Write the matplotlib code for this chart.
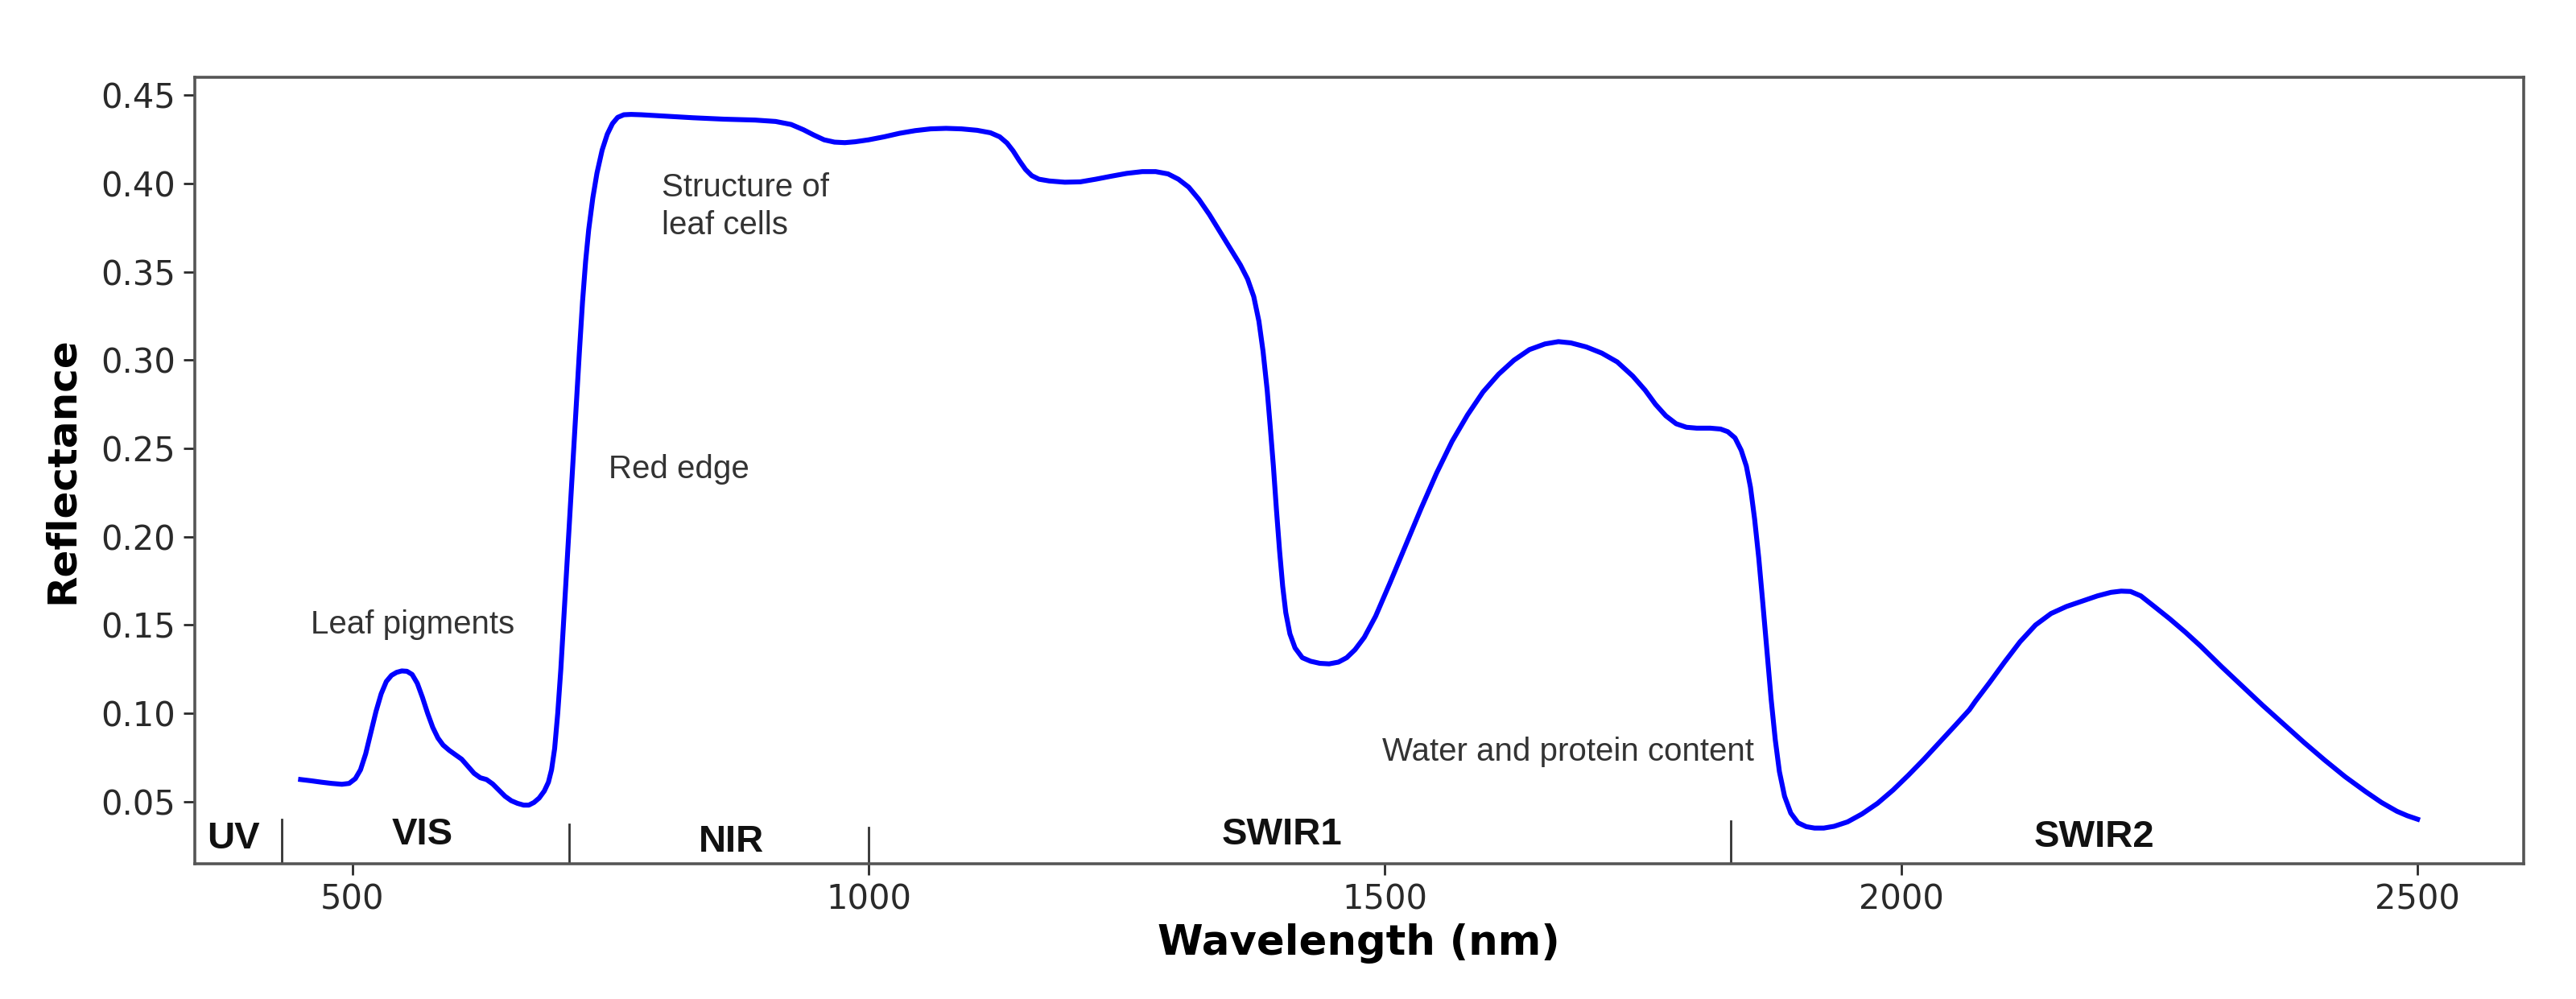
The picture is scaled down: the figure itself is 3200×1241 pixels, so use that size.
import matplotlib.pyplot as plt

# Reflectance curve (wavelength in nm)
wavelength = [450, 460, 470, 480, 490, 497, 503, 508, 513, 518, 523, 528, 533,
              538, 543, 548, 553, 558, 563, 568, 573, 578, 583, 588, 594, 600,
              606, 612, 618, 624, 630, 636, 642, 648, 654, 660, 666, 671, 676,
              681, 686, 690, 693, 696, 699, 702, 705, 708, 711, 714, 717, 720,
              723, 726, 729, 733, 737, 742, 747, 752, 757, 763, 770, 780,
              800, 830, 860, 890, 910, 925, 937, 947, 957, 967, 977, 987, 1000,
              1015, 1030, 1045, 1060, 1075, 1090, 1105, 1118, 1127, 1134, 1140,
              1146, 1152, 1158, 1165, 1175, 1190, 1205, 1220, 1235, 1250, 1265,
              1278, 1290, 1300, 1310, 1320, 1330, 1340, 1350, 1360, 1367, 1373,
              1378, 1382, 1386, 1389, 1392, 1395, 1398, 1401, 1404, 1408, 1413,
              1420, 1428, 1437, 1446, 1455, 1463, 1471, 1480, 1491, 1505, 1520,
              1535, 1550, 1565, 1580, 1595, 1610, 1625, 1640, 1655, 1668, 1680,
              1695, 1710, 1725, 1740, 1752, 1762, 1772, 1782, 1792, 1802, 1815,
              1825, 1832, 1839, 1845, 1850, 1854, 1858, 1862, 1866, 1870, 1874,
              1878, 1882, 1887, 1893, 1900, 1908, 1916, 1925, 1935, 1948, 1962,
              1977, 1992, 2007, 2022, 2037, 2052, 2066, 2072, 2085, 2100, 2115,
              2130, 2145, 2160, 2175, 2190, 2203, 2213, 2222, 2232, 2245, 2260,
              2275, 2290, 2310, 2330, 2350, 2370, 2390, 2410, 2430, 2450, 2465,
              2480, 2490, 2500]
reflectance = [0.0625, 0.0618, 0.061, 0.0603, 0.0598, 0.0603, 0.063, 0.068,
               0.077, 0.089, 0.101, 0.111, 0.118, 0.1215, 0.1232, 0.124, 0.1238,
               0.122, 0.117, 0.109, 0.100, 0.092, 0.086, 0.082, 0.079, 0.0765,
               0.074, 0.070, 0.066, 0.0635, 0.0625, 0.060, 0.0565, 0.053, 0.0505,
               0.049, 0.048, 0.048, 0.0495, 0.052, 0.056, 0.061, 0.068, 0.080,
               0.100, 0.125, 0.155, 0.185, 0.215, 0.245, 0.275, 0.305, 0.333,
               0.356, 0.374, 0.392, 0.406, 0.419, 0.428, 0.434, 0.4375, 0.439,
               0.4392, 0.439,
               0.4383, 0.4373, 0.4365, 0.436, 0.4352, 0.4335, 0.4305, 0.4275,
               0.4248, 0.4235, 0.4232, 0.4237, 0.4248, 0.4265, 0.4285, 0.430,
               0.431, 0.4313, 0.431, 0.4302, 0.4288, 0.4265, 0.423, 0.4185,
               0.413, 0.408, 0.4045, 0.4025, 0.4015, 0.4008, 0.401, 0.4025,
               0.4042, 0.4058, 0.4068, 0.4068, 0.4055, 0.4025, 0.398, 0.391,
               0.3825, 0.373, 0.3635, 0.354, 0.346, 0.336, 0.322, 0.305, 0.283,
               0.262, 0.240, 0.215, 0.192, 0.172, 0.157, 0.145, 0.137, 0.1315,
               0.1295, 0.1283, 0.128, 0.129, 0.1315, 0.136, 0.143, 0.155, 0.174,
               0.195, 0.216, 0.236, 0.254, 0.269, 0.282, 0.292, 0.300, 0.306,
               0.3092, 0.3105, 0.3098, 0.3075, 0.304, 0.299, 0.291, 0.283, 0.275,
               0.2685, 0.264, 0.262, 0.2615, 0.2615, 0.261, 0.2595, 0.256, 0.249,
               0.240, 0.228, 0.210, 0.188, 0.162, 0.135, 0.108, 0.085, 0.067,
               0.053, 0.0435, 0.038, 0.0358, 0.035, 0.035, 0.036, 0.0385, 0.043,
               0.049, 0.0565, 0.065, 0.074, 0.0835, 0.093, 0.102, 0.107, 0.117,
               0.129, 0.1405, 0.150, 0.1565, 0.1605, 0.1635, 0.1665, 0.1685,
               0.1692, 0.169, 0.1665, 0.1605, 0.1535, 0.146, 0.138, 0.1265,
               0.1155, 0.1045, 0.094, 0.0835, 0.0735, 0.064, 0.0555, 0.0495,
               0.0445, 0.042, 0.040]

# Spectral regions
region_names = ['UV', 'VIS', 'NIR', 'SWIR1', 'SWIR2']
region_label_x = [385, 568, 867, 1400, 2187]
region_label_y = [0.029, 0.031, 0.027, 0.031, 0.030]
region_bounds = [432, 710, 1000, 1835]
bound_heights = [0.056, 0.050, 0.046, 0.054]

# Annotations
notes = ['Leaf pigments', 'Red edge', 'Structure of\nleaf cells',
         'Water and protein content']
note_x = [460, 748, 800, 1497]
note_y = [0.150, 0.238, 0.387, 0.078]

fig = plt.figure(figsize=(16, 6.205), dpi=200)
ax = fig.add_axes([0.0756, 0.1354, 0.904, 0.7872])

ax.plot(wavelength, reflectance, color='#0000ff', linewidth=2.2,
        solid_joinstyle='round')
ax.set_xlim(347.5, 2602.5)
ax.set_ylim(0.0148, 0.4602)

ax.set_xticks([500, 1000, 1500, 2000, 2500])
ax.set_yticks([0.05, 0.10, 0.15, 0.20, 0.25, 0.30, 0.35, 0.40, 0.45])
ax.set_yticklabels(['%.2f' % v for v in ax.get_yticks()])
ax.tick_params(labelsize=15, colors='#2a2a2a', length=5, width=1.0)

for side in ax.spines.values():
    side.set_color('#555555')
    side.set_linewidth(1.3)

ax.set_xlabel('Wavelength (nm)', fontsize=18.5, fontweight='bold', labelpad=3)
ax.set_ylabel('Reflectance', fontsize=18, fontweight='bold', labelpad=9)

for b, h in zip(region_bounds, bound_heights):
    ax.axvline(b, ymin=0, ymax=h, color='#333333', linewidth=1.0)

for name, x, y in zip(region_names, region_label_x, region_label_y):
    ax.text(x, y, name, ha='center', va='center', fontsize=17,
            fontweight='bold', family='Liberation Sans', color='#111111')

for t, x, y in zip(notes, note_x, note_y):
    ax.text(x, y, t, ha='left', va='center', fontsize=14.5,
            family='Liberation Sans', color='#333333', linespacing=1.3)

fig.savefig('out.png', dpi=200)
